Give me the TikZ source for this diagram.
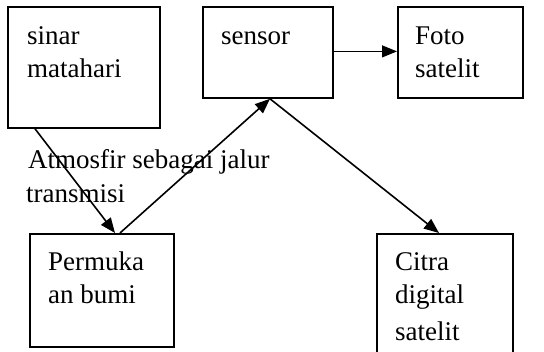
\documentclass[tikz,border=0pt]{standalone}
\usepackage{fontspec}
\setmainfont{Liberation Serif}
\usetikzlibrary{arrows.meta}
\begin{document}
\begin{tikzpicture}[x=1pt,y=-1pt,
  box/.style={draw,line width=1.8pt,minimum width=#1,inner sep=0pt,anchor=north west},
  txt/.style={anchor=base west,inner sep=0pt,font=\fontsize{27}{33}\selectfont},
  arr/.style={line width=1.6pt,-{Triangle[length=15pt,width=12pt]}},
  arrthin/.style={line width=1.1pt,-{Triangle[length=15pt,width=12pt]}}]
\useasboundingbox (0,0) rectangle (544,352);
\clip (0,0) rectangle (544,352);
% boxes
\node[box=152pt,minimum height=121pt] (sinar) at (7,6) {};
\node[box=130pt,minimum height=91pt] (sensor) at (202,6) {};
\node[box=125pt,minimum height=91pt] (foto) at (397,6) {};
\node[box=144pt,minimum height=113pt] (perm) at (29,233) {};
\node[box=136pt,minimum height=130pt] (citra) at (376,233) {};
% texts
\node[txt] (t1) at (27,45) {sinar};
\node[txt] (t2) at (27,78) {matahari};
\node[txt] (t3) at (221,45) {sensor};
\node[txt] (t4) at (415,45) {Foto};
\node[txt] (t5) at (415,78) {satelit};
\node[txt] (t6) at (48,271) {Permuka};
\node[txt] (t7) at (48,304) {an bumi};
\node[txt] (t8) at (395,271) {Citra};
\node[txt] (t9) at (395,304) {digital};
\node[txt] (t10) at (395,341) {satelit};
% connectors
\draw[arrthin] (sensor.east) ++(0,-1) coordinate (se) (se) -- (foto.west |- se);
\draw[arr] ([xshift=28pt]sinar.south west) -- ([xshift=86pt]perm.north west);
\draw[arr] ([xshift=91pt]perm.north west) -- ([xshift=68pt]sensor.south west);
\draw[arr] ([xshift=68pt]sensor.south west) -- ([xshift=63pt]citra.north west);
% label
\node[txt] (lab1) at (28,169) {Atmosfir sebagai jalur};
\node[txt] (lab2) at (26,203) {transmisi};
\end{tikzpicture}
\end{document}
